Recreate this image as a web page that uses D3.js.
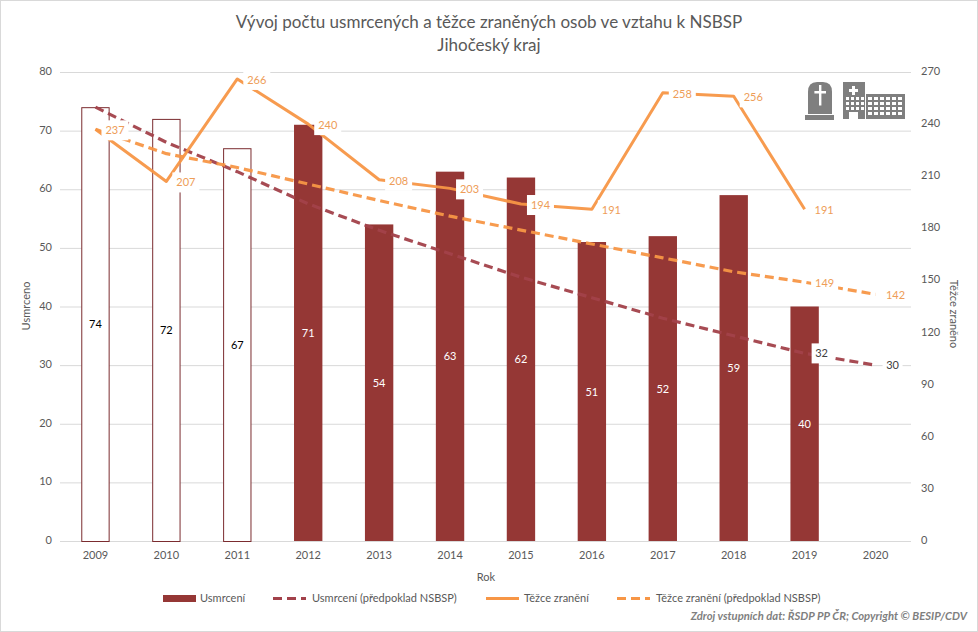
<!DOCTYPE html>
<html lang="cs"><head><meta charset="utf-8">
<script src="https://cdn.jsdelivr.net/npm/d3@7/dist/d3.min.js"></script>
<style>html,body{margin:0;padding:0;background:#fff}svg{display:block}text{font-family:Lato,"Open Sans",sans-serif;fill:#595959}</style>
</head><body><svg id="c" width="978" height="632"></svg>
<script>
const years=[2009,2010,2011,2012,2013,2014,2015,2016,2017,2018,2019,2020];
const deaths=[74,72,67,71,54,63,62,51,52,59,40,null];
const deathsPlan=[74,68,63,57.5,53,49,45,41.5,38,35,32,30];
const injured=[237,207,266,240,208,203,194,191,258,256,191,null];
const injuredPlan=[237,223,215,205.5,196,187,179,171,163,155,149,142];
const hollowYears=[2009,2010,2011];
const planLabelYears=[2019,2020];
const leftTicks=d3.range(0,81,10), rightTicks=d3.range(0,271,30);

const RED="#953735",REDLINE="#A2414A",ORANGE="#F79646",ORTXT="#EE9D58",GRID="#D9D9D9",TXT="#595959";
const svg=d3.select("#c");
svg.append("rect").attr("x",.5).attr("y",.5).attr("width",977).attr("height",631).attr("fill","#fff").attr("stroke",GRID);

const L=60,R=911,T=72,B=541;
const x=d3.scaleBand().domain(years).range([L,R]).paddingInner(.6).paddingOuter(.3);
const cx=y=>x(y)+x.bandwidth()/2;
const yL=d3.scaleLinear().domain([0,80]).range([B,T]);
const yR=d3.scaleLinear().domain([0,270]).range([B,T]);

svg.append("g").selectAll("line").data(leftTicks).join("line")
 .attr("x1",L).attr("x2",R).attr("y1",d=>yL(d)+.5).attr("y2",d=>yL(d)+.5).attr("stroke",GRID);

function style(g){g.select(".domain").remove();g.selectAll(".tick line").remove();g.selectAll("text").attr("fill",TXT).style("font-size","11px");}
svg.append("g").attr("transform",`translate(${L-2},-1)`).call(d3.axisLeft(yL).tickValues(leftTicks).tickSize(0).tickPadding(6)).call(style);
svg.append("g").attr("transform",`translate(${R+2},-1)`).call(d3.axisRight(yR).tickValues(rightTicks).tickSize(0).tickPadding(8)).call(style);
svg.append("g").attr("transform",`translate(0,${B})`).call(d3.axisBottom(x).tickFormat(d3.format("d")).tickSize(0).tickPadding(10)).call(style);

const barData=years.map((y,i)=>({y,v:deaths[i]})).filter(d=>d.v!=null);
const isHollow=d=>hollowYears.includes(d.y);
svg.append("g").selectAll("rect").data(barData).join("rect")
 .attr("x",d=>x(d.y)+(isHollow(d)?.5:0)).attr("width",d=>x.bandwidth()-(isHollow(d)?1:0))
 .attr("y",d=>yL(d.v)+(isHollow(d)?.5:0)).attr("height",d=>B-yL(d.v))
 .attr("fill",d=>isHollow(d)?"#fff":RED).attr("stroke",d=>isHollow(d)?"#7B2C2F":"none");

function drawLine(vals,scale,color,dash,w){
 const line=d3.line().defined(d=>d!=null).x((d,i)=>cx(years[i])).y(d=>scale(d));
 svg.append("path").attr("d",line(vals)).attr("fill","none").attr("stroke",color).attr("stroke-width",w)
  .attr("stroke-dasharray",dash).attr("stroke-opacity",.95).attr("stroke-linejoin","round");
}
drawLine(deathsPlan,yL,REDLINE,"9 5",3.2);
drawLine(injuredPlan,yR,ORANGE,"9 5",3.2);
drawLine(injured,yR,ORANGE,null,3);

function label(px,py,t,color,w,bg){
 if(bg) svg.append("rect").attr("x",px-w/2).attr("y",py-10).attr("width",w).attr("height",20).attr("fill","#fff");
 svg.append("text").attr("x",px).attr("y",py+4).attr("text-anchor","middle").style("font-size","11px").style("fill",color).text(t);
}
// bar labels
barData.forEach(d=>label(cx(d.y),(yL(d.v)+B)/2,d.v,isHollow(d)?"#000":"#fff",0,false));
// line labels
injured.forEach((v,i)=>{if(v!=null)label(cx(years[i])+19.5,yR(v)+1,v,ORTXT,27,true)});
planLabelYears.forEach(y=>{const i=years.indexOf(y);
 label(cx(y)+20,yR(injuredPlan[i])+1,injuredPlan[i],ORTXT,27,true);
 label(cx(y)+17,yL(deathsPlan[i]),deathsPlan[i],"#404040",20,true);
});

// titles
svg.append("text").attr("x",489).attr("y",28).attr("text-anchor","middle").style("font-size","17.05px").text("Vývoj počtu usmrcených a těžce zraněných osob ve vztahu k NSBSP");
svg.append("text").attr("x",489).attr("y",51).attr("text-anchor","middle").style("font-size","17.05px").text("Jihočeský kraj");
svg.append("text").attr("x",486).attr("y",581).attr("text-anchor","middle").style("font-size","11px").text("Rok");
svg.append("text").attr("transform","translate(30,306) rotate(-90)").attr("text-anchor","middle").style("font-size","11px").text("Usmrceno");
svg.append("text").attr("transform","translate(950,314) rotate(90)").attr("text-anchor","middle").style("font-size","11px").text("Těžce zraněno");

// legend
const legendNames=["Usmrcení","Usmrcení (předpoklad NSBSP)","Těžce zranění","Těžce zranění (předpoklad NSBSP)"];
const legendX=[163,273,486,617], legendTextX=[200,312,524,656];
const ly=598;
svg.append("rect").attr("x",legendX[0]).attr("y",ly-3).attr("width",33).attr("height",7).attr("fill",RED);
[[1,REDLINE,"9 5"],[2,ORANGE,null],[3,ORANGE,"9 5"]].forEach(([i,c,d])=>{
 svg.append("line").attr("x1",legendX[i]).attr("x2",legendX[i]+33).attr("y1",ly+.5).attr("y2",ly+.5).attr("stroke",c).attr("stroke-width",3).attr("stroke-dasharray",d);
});
legendNames.forEach((n,i)=>svg.append("text").attr("x",legendTextX[i]).attr("y",ly+4).style("font-size","11px").text(n));
svg.append("text").attr("x",967).attr("y",620).attr("text-anchor","end").style("font-size","11.25px").style("font-weight","700").style("font-style","italic").style("fill","#7F7F7F").text("Zdroj vstupních dat: ŘSDP PP ČR; Copyright © BESIP/CDV");

// icons
const ic=svg.append("g").attr("fill","#7F7F7F");
ic.append("path").attr("d","M808 114 V92 Q808 82 817 82 H823 Q832 82 832 92 V114 Z");
ic.append("rect").attr("x",805).attr("y",115).attr("width",29).attr("height",5);
ic.append("path").attr("fill","#fff").attr("d","M819 85 h2.4 v6 h4.6 v2.4 h-4.6 v12 h-2.4 v-12 h-4.6 v-2.4 h4.6 z");
ic.append("path").attr("d","M843 82 H865 V119 H858 V112 H849 V119 H843 Z");
ic.append("rect").attr("x",866).attr("y",94).attr("width",39).attr("height",25);
const win=svg.append("g").attr("fill","#fff");
win.append("path").attr("d","M852 86 h3 v3 h3 v3 h-3 v3 h-3 v-3 h-3 v-3 h3 z");
[846,851,856,861].forEach(a=>[97,102,107].forEach(b=>win.append("rect").attr("x",a).attr("y",b).attr("width",3).attr("height",3)));
[868,874,880,886,892,898].forEach(a=>[97,102,107,112].forEach(b=>win.append("rect").attr("x",a).attr("y",b).attr("width",4).attr("height",3)));
</script></body></html>
